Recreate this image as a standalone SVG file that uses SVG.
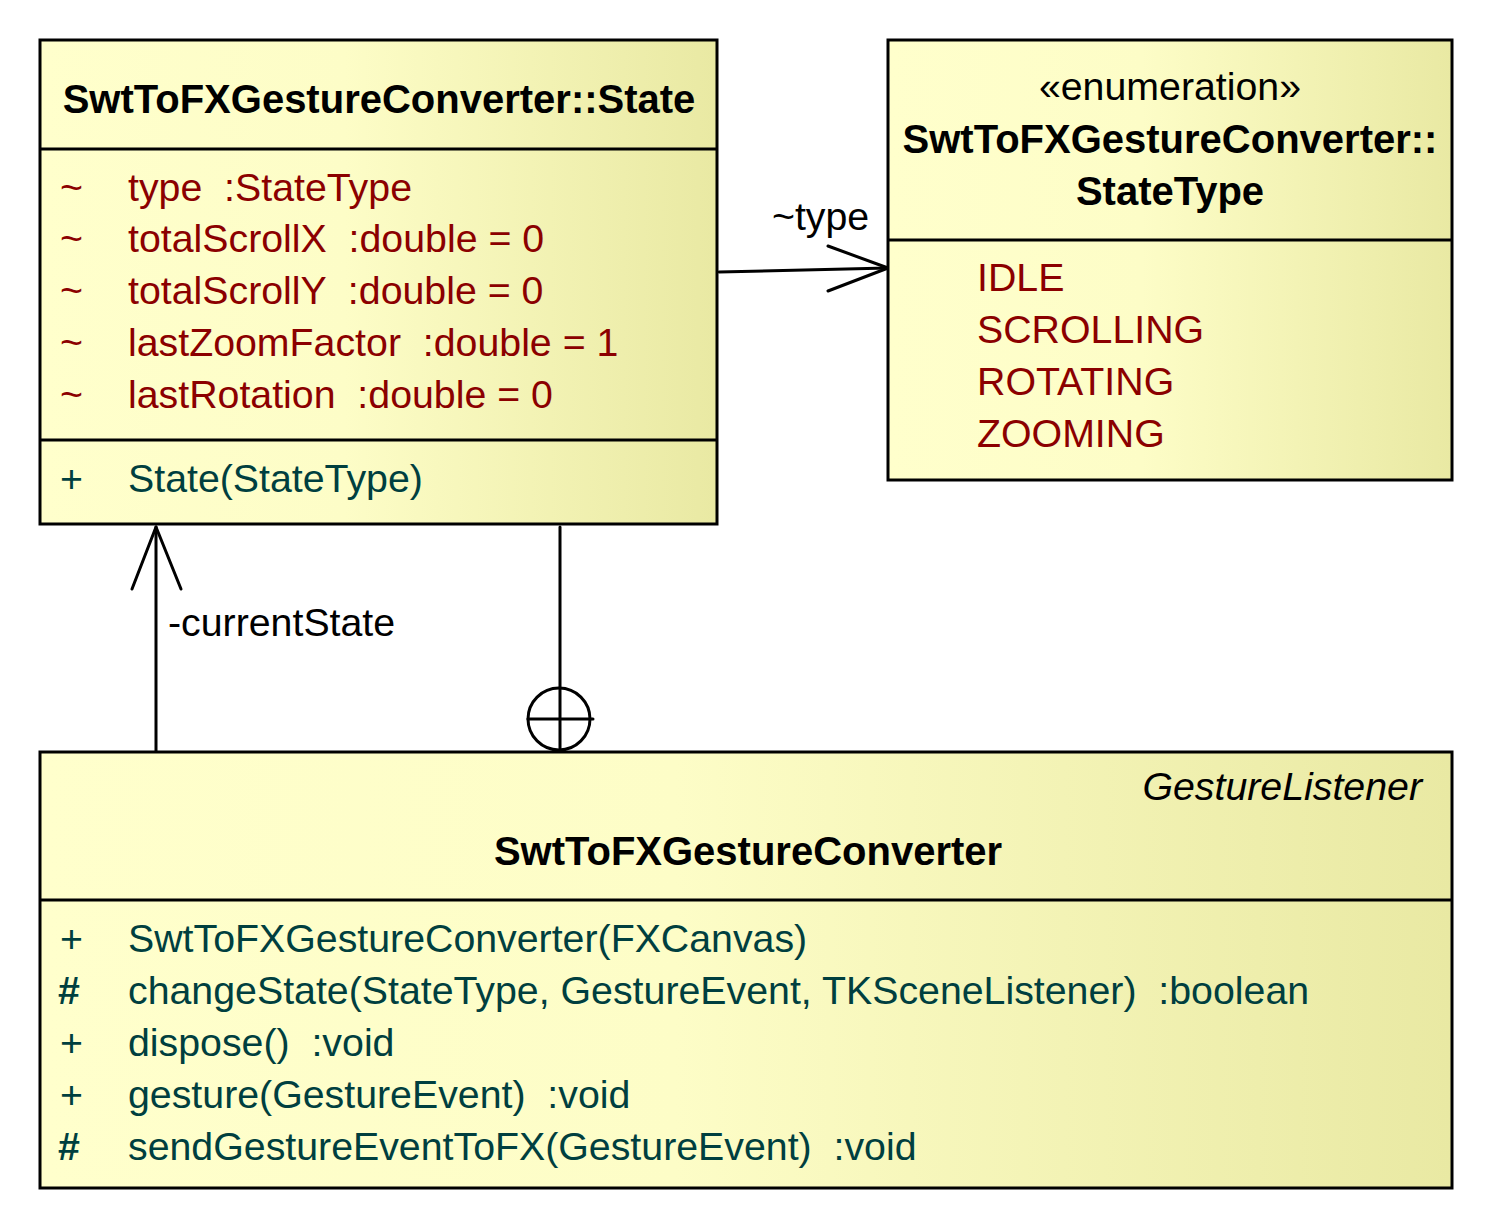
<svg xmlns="http://www.w3.org/2000/svg" width="1496" height="1232" viewBox="0 0 1496 1232">
<defs>
<linearGradient id="fill" x1="0" y1="0" x2="1" y2="0">
<stop offset="0" stop-color="#FFFFCC"/>
<stop offset="0.45" stop-color="#FDFDC7"/>
<stop offset="1" stop-color="#E9E9A3"/>
</linearGradient>
</defs>
<style>
.box{fill:url(#fill);stroke:#000;stroke-width:3}
.sep{stroke:#000;stroke-width:3}
text{font-family:"Liberation Sans",Arial,sans-serif;font-size:39.3px}
.title{font-weight:bold;font-size:40px;fill:#000;text-anchor:middle}
.attr{fill:#8B0000}
.op{fill:#003F3F}
.hash{font-weight:bold}
.lbl{fill:#000}
.edge{fill:none;stroke:#000;stroke-width:3;stroke-linecap:round;stroke-linejoin:round}
</style>
<rect width="1496" height="1232" fill="#fff"/>
<g id="connectors">
<path class="edge" d="M719 272 L888 268"/>
<path class="edge" d="M828 246 L888 268 L828 291"/>
<text class="lbl" x="772" y="230">~type</text>
<path class="edge" d="M156 752 L156 527"/>
<path class="edge" d="M132 589 L156 527 L181 589"/>
<text class="lbl" x="168" y="636">-currentState</text>
<path class="edge" d="M560 527 L560 752"/>
<circle class="edge" cx="559" cy="719" r="31"/>
<path class="edge" d="M528 719 L593 719"/>
</g>
<g id="State">
<rect class="box" x="40" y="40" width="677" height="484"/>
<line class="sep" x1="40" y1="149" x2="717" y2="149"/>
<line class="sep" x1="40" y1="440" x2="717" y2="440"/>
<text class="title" x="379" y="113">SwtToFXGestureConverter::State</text>
<text class="attr" x="60" y="201">~</text><text class="attr" x="128" y="201" xml:space="preserve">type  :StateType</text>
<text class="attr" x="60" y="252">~</text><text class="attr" x="128" y="252" xml:space="preserve">totalScrollX  :double = 0</text>
<text class="attr" x="60" y="304">~</text><text class="attr" x="128" y="304" xml:space="preserve">totalScrollY  :double = 0</text>
<text class="attr" x="60" y="356">~</text><text class="attr" x="128" y="356" xml:space="preserve">lastZoomFactor  :double = 1</text>
<text class="attr" x="60" y="408">~</text><text class="attr" x="128" y="408" xml:space="preserve">lastRotation  :double = 0</text>
<text class="op" x="60" y="492">+</text><text class="op" x="128" y="492">State(StateType)</text>
</g>
<g id="StateType">
<rect class="box" x="888" y="40" width="564" height="440"/>
<line class="sep" x1="888" y1="240" x2="1452" y2="240"/>
<text class="lbl" x="1170" y="100" text-anchor="middle">«enumeration»</text>
<text class="title" x="1170" y="153">SwtToFXGestureConverter::</text>
<text class="title" x="1170" y="205">StateType</text>
<text class="attr" x="977" y="291">IDLE</text>
<text class="attr" x="977" y="343">SCROLLING</text>
<text class="attr" x="977" y="395">ROTATING</text>
<text class="attr" x="977" y="447">ZOOMING</text>
</g>
<g id="SwtToFXGestureConverter">
<rect class="box" x="40" y="752" width="1412" height="436"/>
<line class="sep" x1="40" y1="900" x2="1452" y2="900"/>
<text class="lbl" x="1422" y="800" text-anchor="end" font-style="italic">GestureListener</text>
<text class="title" x="748" y="865">SwtToFXGestureConverter</text>
<text class="op" x="60" y="952">+</text><text class="op" x="128" y="952">SwtToFXGestureConverter(FXCanvas)</text>
<text class="op hash" x="58" y="1004">#</text><text class="op" x="128" y="1004" xml:space="preserve">changeState(StateType, GestureEvent, TKSceneListener)  :boolean</text>
<text class="op" x="60" y="1056">+</text><text class="op" x="128" y="1056" xml:space="preserve">dispose()  :void</text>
<text class="op" x="60" y="1108">+</text><text class="op" x="128" y="1108" xml:space="preserve">gesture(GestureEvent)  :void</text>
<text class="op hash" x="58" y="1160">#</text><text class="op" x="128" y="1160" xml:space="preserve">sendGestureEventToFX(GestureEvent)  :void</text>
</g>
</svg>
